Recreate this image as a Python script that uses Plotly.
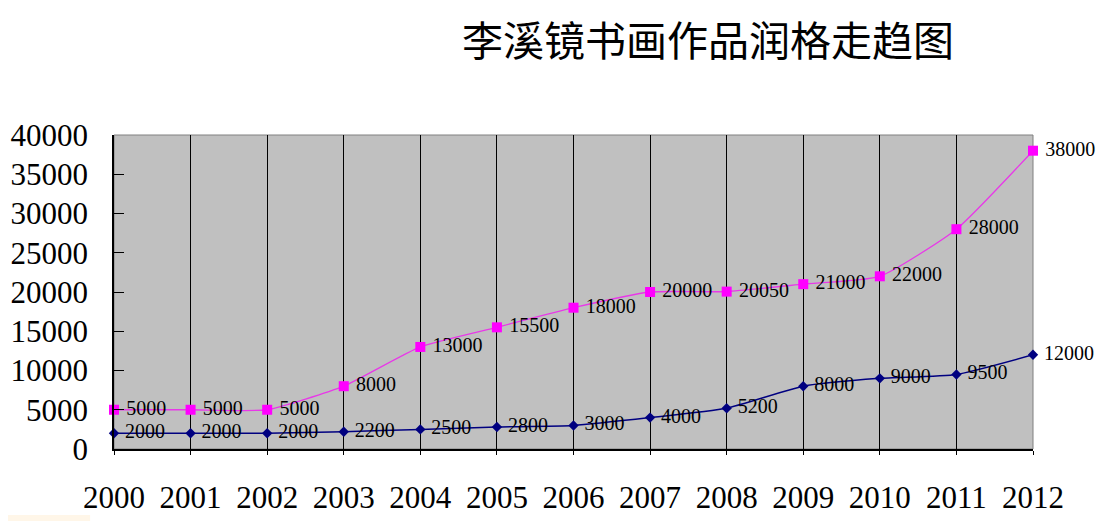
import plotly.graph_objects as go

years = [2000, 2001, 2002, 2003, 2004, 2005, 2006, 2007, 2008, 2009, 2010, 2011, 2012]
high_prices = [5000, 5000, 5000, 8000, 13000, 15500, 18000, 20000, 20050, 21000, 22000, 28000, 38000]
low_prices = [2000, 2000, 2000, 2200, 2500, 2800, 3000, 4000, 5200, 8000, 9000, 9500, 12000]
y_ticks = [0, 5000, 10000, 15000, 20000, 25000, 30000, 35000, 40000]
title_text = "李溪镜书画作品润格走趋图"

label_font = dict(family="Liberation Serif, serif", size=20, color="black")

fig = go.Figure()
fig.add_trace(go.Scatter(
    x=years, y=high_prices, mode="lines+markers+text",
    line=dict(color="#E838E8", width=1.3, shape="spline", smoothing=0.5),
    marker=dict(symbol="square", size=10, color="#FF00FF"),
    text=[" " + str(v) for v in high_prices], textposition="middle right",
    textfont=label_font, cliponaxis=False, showlegend=False,
))
fig.add_trace(go.Scatter(
    x=years, y=low_prices, mode="lines+markers+text",
    line=dict(color="#000080", width=1.5, shape="spline", smoothing=0.5),
    marker=dict(symbol="diamond", size=8, color="#000080"),
    text=[" " + str(v) for v in low_prices], textposition="middle right",
    textfont=label_font, cliponaxis=False, showlegend=False,
))

# gray frame top/right
fig.add_shape(type="rect", xref="paper", yref="paper", x0=0, x1=1, y0=0, y1=1,
              line=dict(color="#808080", width=1), layer="below")
# faint beige strip at the bottom-left edge, as in the reference
fig.add_shape(type="rect", xref="paper", yref="paper", x0=-0.125, x1=-0.026, y0=-0.229, y1=-0.210,
              line=dict(width=0), fillcolor="#FFF6E8", layer="below")

fig.add_annotation(text=title_text, xref="paper", yref="paper", x=0.646, y=1.31,
                   xanchor="center", yanchor="middle", showarrow=False,
                   font=dict(family="Noto Sans CJK SC", size=41, color="black"))

fig.update_layout(
    width=1102, height=513,
    margin=dict(l=106, r=77, t=127, b=72),
    paper_bgcolor="white", plot_bgcolor="#C0C0C0",
)
fig.update_xaxes(
    range=[2000, 2012], tickvals=years, ticktext=[str(y) for y in years],
    showgrid=True, gridcolor="black", gridwidth=1,
    showline=True, linecolor="black", linewidth=1.5,
    ticks="outside", ticklen=4, tickcolor="black",
    ticklabelstandoff=16, automargin=False,
    tickfont=dict(family="Liberation Serif, serif", size=31, color="black"),
    zeroline=False,
)
fig.update_yaxes(
    range=[0, 40000], tickvals=y_ticks, ticktext=[str(v) for v in y_ticks],
    showgrid=False, showline=True, linecolor="black", linewidth=1.5,
    ticks="inside", ticklen=10, tickcolor="black",
    ticklabelstandoff=18, automargin=False,
    tickfont=dict(family="Liberation Serif, serif", size=31, color="black"),
    zeroline=False,
)

fig.write_html("out.html")
